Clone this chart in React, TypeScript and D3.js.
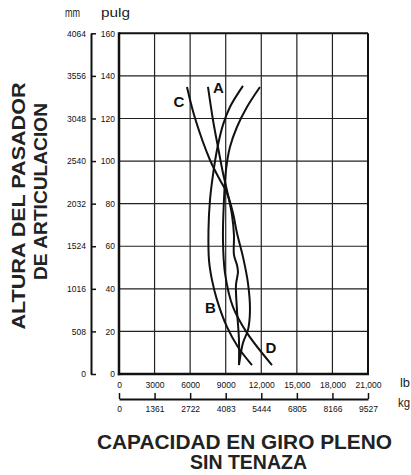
import * as d3 from "d3"
import { useEffect, useRef } from "react"

// lb capacity (x) vs. pin height in inches (y)
const curveA = [
  [7504, 134.8], [7926, 119.3], [8347, 106.6], [8769, 94.4], [9191, 84.1],
  [9528, 74.7], [9696, 65.3], [9696, 55.9], [9949, 51.2], [10034, 47.9],
  [9865, 41.8], [9949, 30.1], [10118, 16.0], [10118, 4.2],
]
const curveB = [
  [10455, 135.3], [9359, 125.4], [8769, 117.0], [8263, 105.2], [7926, 93.5],
  [7673, 81.7], [7547, 67.6], [7589, 53.5], [7841, 44.2], [8263, 34.8],
  [9106, 22.1], [10034, 12.7], [11214, 4.2],
]
const curveC = [
  [5734, 134.8], [6408, 120.2], [7673, 100.5], [8516, 91.1], [9106, 85.0],
  [9612, 75.6], [9949, 66.2], [10455, 55.0], [10877, 42.7], [11046, 30.1],
  [10877, 20.7], [10455, 14.6], [10118, 4.2],
]
const curveD = [
  [11889, 134.8], [10793, 125.4], [9949, 116.0], [9359, 106.6], [9022, 95.8],
  [8853, 81.7], [8769, 62.9], [8938, 47.4], [9612, 31.5], [10793, 19.3],
  [12900, 4.2],
]
const curveLabels = [
  { name: "A", lb: 8375, pulg: 134.7 },
  { name: "B", lb: 7717, pulg: 31.2 },
  { name: "C", lb: 5060, pulg: 127.8 },
  { name: "D", lb: 12819, pulg: 12.4 },
]

const lbTicks = [0, 3000, 6000, 9000, 12000, 15000, 18000, 21000]
const kgTicks = [0, 1361, 2722, 4083, 5444, 6805, 8166, 9527]
const pulgTicks = [0, 20, 40, 60, 80, 100, 120, 140, 160]
const mmTicks = [0, 508, 1016, 1524, 2032, 2540, 3048, 3556, 4064]

const W = 411
const H = 475
const FONT = "'Liberation Sans', Arial, Helvetica, sans-serif"

export default function App() {
  const svgRef = useRef<SVGSVGElement | null>(null)

  useEffect(() => {
    if (!svgRef.current) return
    const svg = d3.select(svgRef.current)
    svg.selectAll("*").remove()

    const left = 119
    const right = 368
    const top = 33.3
    const bottom = 374

    const x = d3.scaleLinear().domain([0, 21000]).range([left, right])
    const y = d3.scaleLinear().domain([0, 160]).range([bottom, top])
    const yMm = d3.scaleLinear().domain([0, 4064]).range([bottom, top])
    const xKg = d3.scaleLinear().domain([0, 9527]).range([left, right])

    const g = svg.append("g").style("font-family", FONT)

    // grid
    g.append("g")
      .selectAll("line")
      .data(lbTicks.slice(1, -1))
      .enter()
      .append("line")
      .attr("x1", (d) => x(d))
      .attr("x2", (d) => x(d))
      .attr("y1", top)
      .attr("y2", bottom)
      .attr("stroke", "#222")
      .attr("stroke-width", 1.2)

    g.append("g")
      .selectAll("line")
      .data(pulgTicks.slice(1, -1))
      .enter()
      .append("line")
      .attr("x1", left)
      .attr("x2", right)
      .attr("y1", (d) => y(d))
      .attr("y2", (d) => y(d))
      .attr("stroke", "#222")
      .attr("stroke-width", 1.2)

    // frame: heavier on left/bottom
    g.append("line")
      .attr("x1", left).attr("x2", right).attr("y1", top).attr("y2", top)
      .attr("stroke", "#111").attr("stroke-width", 2)
    g.append("line")
      .attr("x1", right).attr("x2", right).attr("y1", top).attr("y2", bottom)
      .attr("stroke", "#111").attr("stroke-width", 2)
    g.append("line")
      .attr("x1", left).attr("x2", left).attr("y1", top - 1).attr("y2", bottom + 1.2)
      .attr("stroke", "#111").attr("stroke-width", 2.5)
    g.append("line")
      .attr("x1", left - 1.2).attr("x2", right + 1).attr("y1", bottom).attr("y2", bottom)
      .attr("stroke", "#111").attr("stroke-width", 2.5)

    // pulg labels (no tick marks)
    const pulgAxis = g
      .append("g")
      .attr("transform", `translate(${left},0)`)
      .call(d3.axisLeft(y).tickValues(pulgTicks).tickSize(0).tickPadding(4))
    pulgAxis.select(".domain").remove()

    // mm axis
    const mmAxis = g
      .append("g")
      .attr("transform", `translate(91,0)`)
      .call(
        d3.axisLeft(yMm).tickValues(mmTicks).tickSizeInner(-5).tickSizeOuter(0).tickPadding(5)
          .tickFormat((d) => String(d)),
      )

    // lb labels
    const lbAxis = g
      .append("g")
      .attr("transform", `translate(0,${bottom})`)
      .call(
        d3
          .axisBottom(x)
          .tickValues(lbTicks)
          .tickSize(0)
          .tickPadding(8)
          .tickFormat((d) => (+d >= 10000 ? d3.format(",")(+d) : String(d))),
      )
    lbAxis.select(".domain").remove()

    // kg axis (ticks pointing up)
    const kgAxis = g
      .append("g")
      .attr("transform", `translate(0,399)`)
      .call(
        d3.axisBottom(xKg).tickValues(kgTicks).tickSizeInner(-6).tickSizeOuter(0).tickPadding(6.5)
          .tickFormat((d) => String(d)),
      )

    for (const ax of [pulgAxis, mmAxis, lbAxis, kgAxis]) {
      ax.attr("font-family", FONT)
      ax.selectAll(".tick text").attr("font-size", 8.5).attr("fill", "#111")
      ax.selectAll(".tick line").attr("stroke", "#111").attr("stroke-width", 1.5)
      ax.select(".domain").attr("stroke", "#111").attr("stroke-width", 2)
    }

    // curves
    const line = d3
      .line<number[]>()
      .x((d) => x(d[0]))
      .y((d) => y(d[1]))
      .curve(d3.curveCatmullRom.alpha(0.5))

    g.append("g")
      .selectAll("path")
      .data([curveA, curveB, curveC, curveD])
      .enter()
      .append("path")
      .attr("d", (d) => line(d))
      .attr("fill", "none")
      .attr("stroke", "#111")
      .attr("stroke-width", 2)

    g.append("g")
      .selectAll("text")
      .data(curveLabels)
      .enter()
      .append("text")
      .attr("x", (d) => x(d.lb))
      .attr("y", (d) => y(d.pulg))
      .attr("dy", "0.36em")
      .attr("text-anchor", "middle")
      .attr("font-size", 15)
      .attr("font-weight", "bold")
      .attr("fill", "#111")
      .text((d) => d.name)

    // unit captions
    const unit = (t: string, ux: number, uy: number, len: number) =>
      g.append("text")
        .attr("x", ux).attr("y", uy)
        .attr("font-size", 12)
        .attr("fill", "#222")
        .attr("textLength", len)
        .attr("lengthAdjust", "spacingAndGlyphs")
        .text(t)
    unit("mm", 65, 17, 15)
    unit("pulg", 101, 17, 29)
    unit("lb", 400, 387, 10)
    unit("kg", 398, 407, 12)

    // titles
    const title = (t: string, tx: number, ty: number, len: number, rot = false) =>
      g.append("text")
        .attr("transform", rot ? `translate(${tx},${ty}) rotate(-90)` : `translate(${tx},${ty})`)
        .attr("text-anchor", "middle")
        .attr("font-size", rot ? 18 : 20)
        .attr("font-weight", "bold")
        .attr("fill", "#222")
        .attr("textLength", len)
        .attr("lengthAdjust", "spacingAndGlyphs")
        .text(t)
    title("CAPACIDAD EN GIRO PLENO", 244.5, 449, 295)
    title("SIN TENAZA", 248.5, 469, 117)
    title("ALTURA DEL PASADOR", 25, 206, 247, true)
    title("DE ARTICULACION", 47, 191.5, 177, true)
  }, [])

  return (
    <svg
      ref={svgRef}
      width={W}
      height={H}
      style={{ position: "absolute", left: 0, top: 0, background: "#fff" }}
    />
  )
}
